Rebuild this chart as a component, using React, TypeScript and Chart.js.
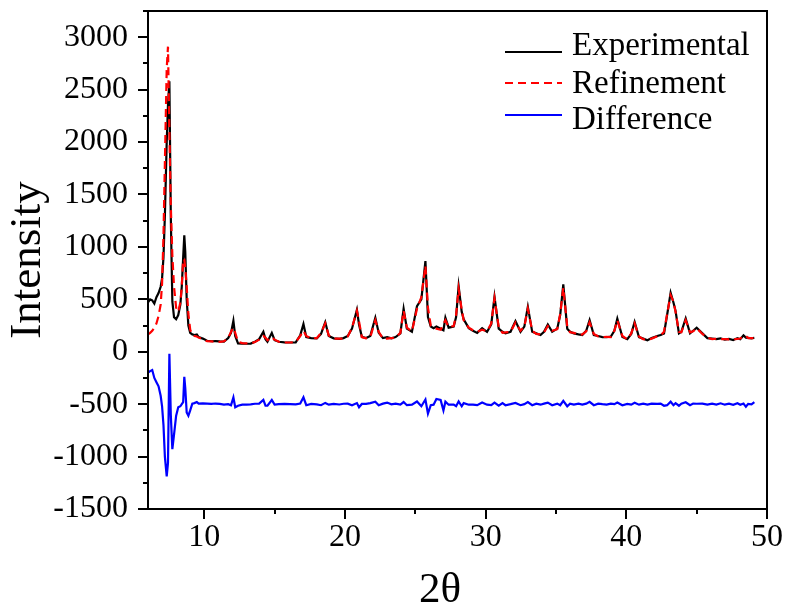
import React, { useEffect, useRef } from "react";
import { Chart, registerables } from "chart.js";

Chart.register(...registerables);

const twoTheta = [
  6.0, 6.15, 6.3, 6.45, 6.6, 6.75, 6.9, 7.0, 7.1, 7.2,
  7.33, 7.42, 7.52, 7.62, 7.73, 7.85, 8.0, 8.15, 8.3, 8.4,
  8.5, 8.58, 8.65, 8.75, 8.87, 9.0, 9.15, 9.3, 9.47, 9.6,
  9.9, 10.2, 10.5, 10.8, 11.1, 11.4, 11.7, 11.9, 12.07, 12.2,
  12.4, 12.7, 13.0, 13.3, 13.6, 13.9, 14.2, 14.35, 14.49, 14.8,
  15.0, 15.3, 15.7, 16.1, 16.5, 16.82, 17.05, 17.25, 17.6, 18.0,
  18.3, 18.6, 18.85, 19.2, 19.6, 19.9, 20.2, 20.5, 20.85, 21.0,
  21.2, 21.5, 21.8, 22.16, 22.4, 22.7, 23.0, 23.3, 23.6, 23.94,
  24.17, 24.4, 24.76, 25.12, 25.43, 25.72, 25.9, 26.1, 26.3, 26.5,
  26.8, 27.0, 27.14, 27.37, 27.73, 27.9, 28.08, 28.3, 28.44, 28.8,
  29.1, 29.4, 29.75, 30.1, 30.4, 30.63, 30.93, 31.2, 31.41, 31.77,
  32.12, 32.48, 32.75, 33.0, 33.31, 33.6, 33.9, 34.15, 34.42, 34.73,
  35.09, 35.3, 35.52, 35.8, 36.0, 36.27, 36.6, 36.87, 37.15, 37.39,
  37.69, 38.0, 38.3, 38.6, 38.9, 39.15, 39.36, 39.72, 40.07, 40.35,
  40.59, 40.9, 41.2, 41.5, 41.8, 42.2, 42.44, 42.68, 42.9, 43.15,
  43.35, 43.5, 43.74, 43.91, 44.22, 44.53, 44.75, 45.0, 45.41, 45.76,
  46.1, 46.4, 46.7, 47.0, 47.3, 47.6, 47.9, 48.1, 48.33, 48.5,
  48.66, 48.9, 49.1,
];

const experimental = [
  470, 500, 490, 460, 520, 560, 620, 700, 900, 1300,
  2000, 2350, 2580, 1300, 480, 330, 310, 350, 450, 620,
  900, 1110, 950, 500, 250, 180, 165, 160, 165, 140,
  125, 105, 100, 102, 98, 96, 130, 180, 295, 150,
  80, 78, 76, 78, 96, 120, 190, 120, 96, 180,
  110, 95, 90, 88, 90, 156, 265, 140, 130, 128,
  170, 282, 150, 128, 122, 130, 150, 220, 400, 260,
  142, 130, 150, 324, 180, 130, 140, 128, 140, 175,
  410, 220, 190, 435, 500, 864, 330, 240, 225, 240,
  220, 205, 324, 230, 240, 330, 626, 380, 310, 225,
  200, 180, 225, 190, 260, 524, 220, 190, 175, 190,
  292, 190, 240, 429, 190, 175, 160, 190, 260, 190,
  220, 350, 642, 220, 190, 175, 165, 160, 200, 302,
  160, 150, 140, 138, 145, 200, 315, 140, 120, 170,
  283, 140, 125, 110, 130, 150, 160, 175, 350, 563,
  470, 390, 175, 190, 318, 175, 200, 229, 175, 130,
  125, 120, 128, 115, 122, 112, 130, 120, 156, 135,
  133, 128, 133,
];

const refinement = [
  165, 180, 200, 230, 270, 340, 450, 650, 1100, 1800,
  2700, 2910, 2100, 1400, 920, 620, 420, 380, 470, 620,
  880, 880, 800, 620, 360, 210, 160, 150, 145, 135,
  118, 100, 98, 96, 95, 100, 130, 190, 230, 180,
  95, 82, 80, 80, 92, 115, 150, 135, 110, 140,
  115, 95, 88, 88, 92, 150, 200, 150, 128, 130,
  180, 270, 155, 125, 125, 126, 145, 230, 390, 290,
  140, 128, 140, 300, 190, 125, 125, 130, 135, 180,
  390, 230, 195, 410, 520, 820, 420, 250, 230, 220,
  210, 265, 300, 235, 245, 350, 600, 400, 300, 230,
  205, 190, 210, 195, 270, 510, 235, 180, 185, 190,
  280, 200, 240, 410, 200, 170, 165, 185, 245, 200,
  215, 360, 610, 240, 185, 180, 160, 165, 195, 280,
  170, 145, 140, 142, 140, 200, 300, 150, 118, 175,
  270, 145, 120, 115, 125, 148, 155, 190, 360, 540,
  480, 380, 190, 185, 300, 185, 195, 225, 170, 135,
  120, 124, 120, 120, 118, 118, 122, 126, 150, 150,
  130, 130, 130,
];

const difference = [
  -200, -185, -175, -250, -290, -330, -420, -520, -700, -1000,
  -1190, -1060, -20, -600, -930, -790, -610, -530, -520, -500,
  -480, -240, -350, -580, -610, -560, -495, -490, -480, -495,
  -493, -495, -498, -494, -497, -504, -500, -510, -435, -530,
  -515, -504, -504, -502, -496, -495, -460, -515, -514, -460,
  -505, -500, -498, -500, -502, -494, -435, -510, -498, -502,
  -510, -488, -505, -497, -503, -496, -495, -510, -490, -530,
  -498, -498, -490, -476, -510, -495, -485, -502, -495, -505,
  -480, -510, -505, -475, -520, -456, -590, -510, -505, -450,
  -460, -560, -476, -505, -505, -520, -474, -520, -490, -505,
  -505, -510, -485, -505, -510, -486, -515, -490, -510, -500,
  -488, -510, -500, -481, -510, -495, -505, -495, -485, -510,
  -495, -510, -468, -520, -495, -505, -495, -505, -495, -478,
  -510, -495, -500, -504, -495, -500, -485, -510, -498, -505,
  -487, -505, -495, -505, -495, -498, -495, -515, -510, -477,
  -510, -490, -515, -495, -482, -510, -495, -496, -495, -505,
  -495, -504, -492, -505, -496, -506, -492, -506, -494, -525,
  -497, -502, -480,
];

const seriesLabels = ["Experimental", "Refinement", "Difference"];
const xTickValues = [10, 20, 30, 40, 50];
const xMinorTickValues = [15, 25, 35, 45];
const yTickValues = [-1500, -1000, -500, 0, 500, 1000, 1500, 2000, 2500, 3000];
const yMinorTickValues = [-1250, -750, -250, 250, 750, 1250, 1750, 2250, 2750, 3250];
const xTitle = "2θ";
const yTitle = "Intensity";

const FONT = "'Liberation Serif', 'Times New Roman', serif";

export default function App() {
  const canvasRef = useRef<HTMLCanvasElement | null>(null);

  useEffect(() => {
    if (!canvasRef.current) return;
    const toPoints = (ys: number[]) => twoTheta.map((x, i) => ({ x, y: ys[i] }));

    const framePlugin = {
      id: "frameAndLegend",
      afterDraw(chart: any) {
        const { ctx, chartArea: a, scales } = chart;
        const xs = scales.x;
        const ys = scales.y;
        ctx.save();
        ctx.strokeStyle = "#000";
        ctx.lineWidth = 2;
        ctx.strokeRect(a.left, a.top, a.right - a.left, a.bottom - a.top);
        ctx.beginPath();
        yTickValues.forEach((v) => {
          const p = Math.round(ys.getPixelForValue(v));
          ctx.moveTo(a.left - 10, p);
          ctx.lineTo(a.left, p);
        });
        yMinorTickValues.forEach((v) => {
          const p = Math.round(ys.getPixelForValue(v));
          ctx.moveTo(a.left - 5, p);
          ctx.lineTo(a.left, p);
        });
        xTickValues.forEach((v) => {
          const p = Math.round(xs.getPixelForValue(v));
          ctx.moveTo(p, a.bottom);
          ctx.lineTo(p, a.bottom + 10);
        });
        xMinorTickValues.forEach((v) => {
          const p = Math.round(xs.getPixelForValue(v));
          ctx.moveTo(p, a.bottom);
          ctx.lineTo(p, a.bottom + 5);
        });
        ctx.stroke();

        // legend
        const lineY = [52, 83, 115];
        const textY = [55, 92.5, 129];
        chart.data.datasets.forEach((ds: any, i: number) => {
          ctx.beginPath();
          ctx.strokeStyle = ds.borderColor;
          ctx.lineWidth = 2;
          ctx.setLineDash(ds.borderDash || []);
          ctx.moveTo(505, lineY[i]);
          ctx.lineTo(562, lineY[i]);
          ctx.stroke();
          ctx.setLineDash([]);
          ctx.fillStyle = "#000";
          ctx.font = `33px ${FONT}`;
          ctx.textAlign = "left";
          ctx.textBaseline = "alphabetic";
          ctx.fillText(ds.label, 572, textY[i]);
        });

        // x title
        ctx.font = `43px ${FONT}`;
        ctx.textAlign = "center";
        ctx.textBaseline = "alphabetic";
        ctx.fillStyle = "#000";
        ctx.fillText(xTitle, 440, 602);
        ctx.restore();
      },
    };

    const chart = new Chart(canvasRef.current, {
      type: "line",
      data: {
        datasets: [
          {
            label: seriesLabels[0],
            data: toPoints(experimental),
            borderColor: "#000000",
            borderWidth: 2.2,
            pointRadius: 0,
            tension: 0,
            order: 1,
          },
          {
            label: seriesLabels[1],
            data: toPoints(refinement),
            borderColor: "#ff0000",
            borderDash: [8, 5],
            borderWidth: 2.2,
            pointRadius: 0,
            tension: 0,
            order: 0,
          },
          {
            label: seriesLabels[2],
            data: toPoints(difference),
            borderColor: "#0000ff",
            borderWidth: 2.2,
            pointRadius: 0,
            tension: 0,
            order: 2,
          },
        ],
      },
      options: {
        animation: false,
        responsive: true,
        maintainAspectRatio: false,
        layout: { padding: { left: 0, top: 11, right: 20, bottom: 0 } },
        plugins: { legend: { display: false }, tooltip: { enabled: false } },
        scales: {
          x: {
            type: "linear",
            min: 6,
            max: 50,
            grid: { display: false, drawTicks: false },
            border: { display: false },
            ticks: {
              color: "#000",
              font: { family: FONT, size: 32 },
              padding: 9,
              maxRotation: 0,
              callback: (v: any) => String(v),
            },
            afterBuildTicks: (s: any) => {
              s.ticks = xTickValues.map((v) => ({ value: v }));
            },
            afterFit: (s: any) => {
              s.height = 97;
              s.paddingLeft = 0;
              s.paddingRight = 0;
            },
          },
          y: {
            type: "linear",
            min: -1500,
            max: 3250,
            grid: { display: false, drawTicks: false },
            border: { display: false },
            ticks: {
              color: "#000",
              font: { family: FONT, size: 32 },
              padding: 20,
              callback: (v: any) => String(v),
            },
            afterBuildTicks: (s: any) => {
              s.ticks = yTickValues.map((v) => ({ value: v }));
            },
            afterFit: (s: any) => {
              s.width = 148;
              s.paddingTop = 0;
              s.paddingBottom = 0;
            },
            title: {
              display: true,
              text: yTitle,
              color: "#000",
              font: { family: FONT, size: 45 },
              padding: { top: 1, bottom: 0 },
            },
          },
        },
      },
      plugins: [framePlugin],
    });
    return () => chart.destroy();
  }, []);

  return (
    <div style={{ position: "absolute", left: 0, top: 0, width: 787, height: 606, background: "#fff" }}>
      <canvas ref={canvasRef} />
    </div>
  );
}
